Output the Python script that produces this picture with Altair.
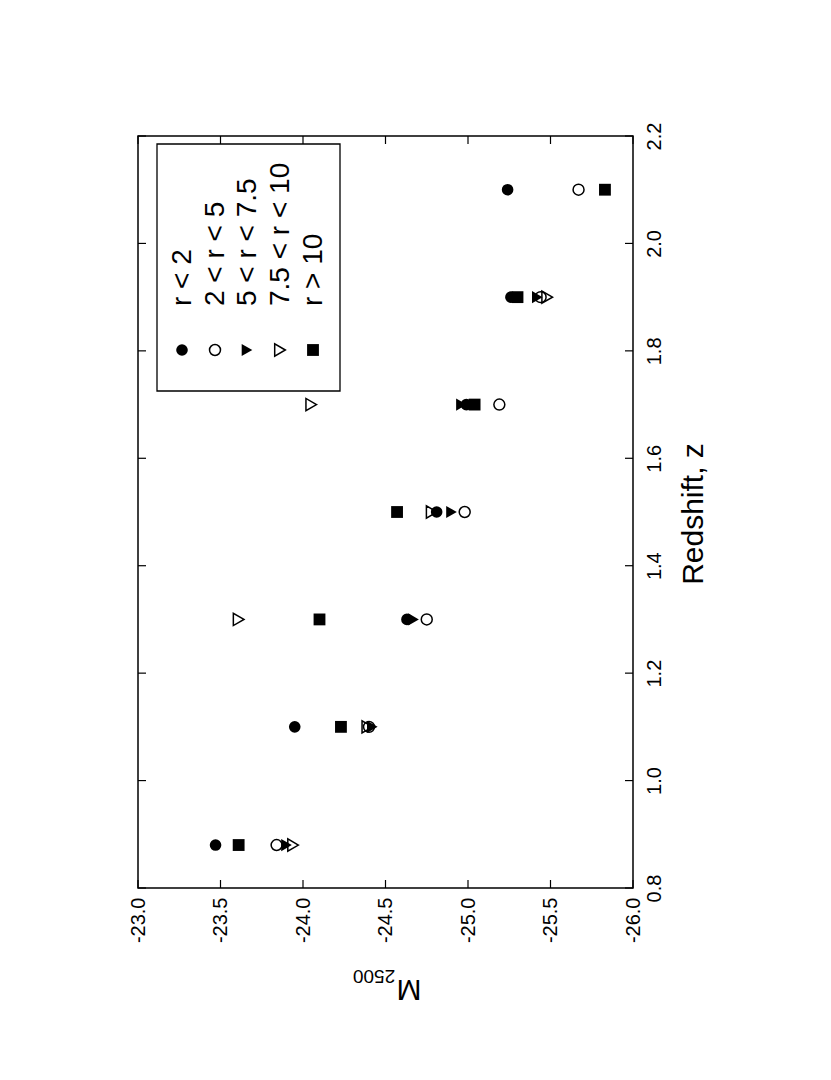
import altair as alt
import pandas as pd

# ---- data ----
redshift = [0.88, 1.1, 1.3, 1.5, 1.7, 1.9, 2.1]
m_r_lt_2 = [-23.47, -23.95, -24.63, -24.81, -24.99, -25.26, -25.24]
m_r_2_5 = [-23.84, -24.40, -24.75, -24.98, -25.19, -25.44, -25.67]
m_r_5_75 = [-23.90, -24.42, -24.67, -24.90, -24.96, -25.42, None]
m_r_75_10 = [-23.94, -24.39, -23.61, -24.78, -24.05, -25.48, None]
m_r_gt_10 = [-23.61, -24.23, -24.10, -24.57, -25.04, -25.30, -25.83]

series_names = ["r < 2", "2 < r < 5", "5 < r < 7.5", "7.5 < r < 10", "r > 10"]
series_values = [m_r_lt_2, m_r_2_5, m_r_5_75, m_r_75_10, m_r_gt_10]
series_shapes = ["circle", "circle", "triangle-right", "triangle-right", "square"]
series_filled = [True, False, True, False, True]
series_sizes = [135, 120, 150, 150, 140]

m_ticks = [-23.0, -23.5, -24.0, -24.5, -25.0, -25.5, -26.0]
z_ticks = [0.8, 1.0, 1.2, 1.4, 1.6, 1.8, 2.0, 2.2]

FONT = "Liberation Sans"
W, H = 495, 752
TICK = 8

xscale = alt.Scale(domain=[-26, -23], reverse=True, nice=False, zero=False)
yscale = alt.Scale(domain=[0.8, 2.2], nice=False, zero=False)

xaxis = alt.Axis(values=m_ticks, labelExpr="'-' + format(abs(datum.value), '.1f')",
                 labelAngle=270, labelAlign="right", labelBaseline="middle",
                 labelFont=FONT, labelFontSize=20, labelColor="black",
                 labelPadding=9, ticks=False, tickSize=0, domain=False, grid=False,
                 title=None, orient="bottom", labelOverlap=False)
yaxis = alt.Axis(values=z_ticks, format=".1f", labelAngle=270, labelAlign="center",
                 labelBaseline="top", labelFont=FONT, labelFontSize=20,
                 labelColor="black", labelPadding=11, ticks=False, tickSize=0,
                 domain=False, grid=False, title=None, orient="right",
                 labelOverlap=False)

layers = []

# data points
for name, vals, shp, fil, sz in zip(series_names, series_values, series_shapes,
                                     series_filled, series_sizes):
    rows = [(z, m) for z, m in zip(redshift, vals) if m is not None]
    df = pd.DataFrame(rows, columns=["z", "M"])
    layers.append(
        alt.Chart(df).mark_point(shape=shp, filled=fil, size=sz, color="black",
                                 opacity=1, strokeWidth=1.5)
        .encode(x=alt.X("M:Q", scale=xscale, axis=xaxis),
                y=alt.Y("z:Q", scale=yscale, axis=yaxis))
    )

# inward ticks on all four sides
mt = pd.DataFrame({"M": m_ticks})
zt = pd.DataFrame({"z": z_ticks})
for y0, y1 in [(H, H - TICK), (0, TICK)]:
    layers.append(alt.Chart(mt).mark_rule(color="black", strokeWidth=1.2).encode(
        x=alt.X("M:Q", scale=xscale, axis=xaxis),
        y=alt.value(y0), y2=alt.value(y1)))
for x0, x1 in [(0, TICK), (W, W - TICK)]:
    layers.append(alt.Chart(zt).mark_rule(color="black", strokeWidth=1.2).encode(
        y=alt.Y("z:Q", scale=yscale, axis=yaxis),
        x=alt.value(x0), x2=alt.value(x1)))

one = pd.DataFrame({"a": [0]})

# legend box
layers.append(alt.Chart(one).mark_rect(fill="white", fillOpacity=0, stroke="black",
                                       strokeWidth=1.3).encode(
    x=alt.value(19), x2=alt.value(202), y=alt.value(8), y2=alt.value(255)))

leg_x = [44, 77, 109, 142, 175]
for lx, name, shp, fil, sz in zip(leg_x, series_names, series_shapes,
                                  series_filled, series_sizes):
    layers.append(alt.Chart(one).mark_point(shape=shp, filled=fil, size=sz,
                                            color="black", opacity=1,
                                            strokeWidth=1.5).encode(
        x=alt.value(lx), y=alt.value(214)))
    layers.append(alt.Chart(one).mark_text(text=name, angle=270, align="left",
                                           baseline="middle", font=FONT,
                                           fontSize=28, color="black").encode(
        x=alt.value(lx + 1), y=alt.value(170)))

# axis titles (rotated like the reference)
layers.append(alt.Chart(one).mark_text(text="Redshift, z", angle=270, align="center",
                                       baseline="middle", font=FONT, fontSize=30,
                                       color="black").encode(
    x=alt.value(556), y=alt.value(378)))
layers.append(alt.Chart(one).mark_text(text="M", angle=180, align="center",
                                       baseline="middle", font=FONT, fontSize=30,
                                       color="black").encode(
    x=alt.value(271), y=alt.value(853)))
layers.append(alt.Chart(one).mark_text(text="2500", angle=180, align="center",
                                       baseline="middle", font=FONT, fontSize=19,
                                       color="black").encode(
    x=alt.value(236), y=alt.value(840)))

chart = alt.layer(*layers).properties(
    width=W, height=H,
    autosize=alt.AutoSizeParams(type="none"),
    padding={"left": 130, "top": 128, "right": 190, "bottom": 184},
    background="white",
).configure_view(stroke="black", strokeWidth=1.5)

chart.save("out.html", embed_options={"renderer": "svg", "actions": False})
